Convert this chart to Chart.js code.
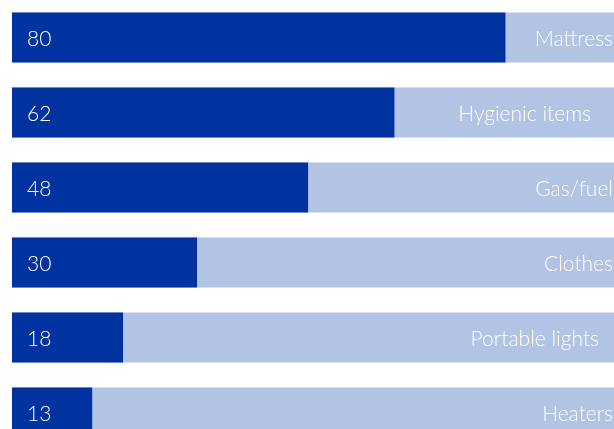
<!DOCTYPE html>
<html>
<head>
<meta charset="utf-8">
<script src="https://cdn.jsdelivr.net/npm/chart.js@4/dist/chart.umd.min.js"></script>
<style>
  html, body { margin: 0; padding: 0; background: #fff; overflow: hidden; width: 614px; height: 429px; }
  #wrap { position: absolute; left: 0; top: 0; width: 614px; height: 450px; }
</style>
</head>
<body>
<div id="wrap"><canvas id="c"></canvas></div>
<script>
const categories = ["Mattress", "Hygienic items", "Gas/fuel", "Clothes", "Portable lights", "Heaters"];
const values = [80, 62, 48, 30, 18, 13];
const totals = [100, 100, 100, 100, 100, 100];

const DARK = "#0033a0";
const LIGHT = "#b3c3e3";
const FONT = "300 21px Lato, 'Open Sans', sans-serif";
// right-hand inset of each category label (layout only)
const labelInset = [1, 23, 1, 1, 15, 1];

const labelPlugin = {
  id: "barLabels",
  afterDatasetsDraw(chart) {
    const ctx = chart.ctx;
    const meta = chart.getDatasetMeta(0);
    ctx.save();
    ctx.font = FONT;
    ctx.fillStyle = "#ffffff";
    ctx.textBaseline = "middle";
    meta.data.forEach((bar, i) => {
      const y = bar.y + 2;
      ctx.textAlign = "left";
      ctx.fillText(String(values[i]), chart.chartArea.left + 15, y);
      ctx.textAlign = "right";
      ctx.fillText(categories[i], chart.width - labelInset[i], y);
    });
    ctx.restore();
  }
};

new Chart(document.getElementById("c"), {
  type: "bar",
  data: {
    labels: categories,
    datasets: [
      { data: values, backgroundColor: DARK, borderWidth: 0, order: 0 },
      { data: totals, backgroundColor: LIGHT, borderWidth: 0, order: 1 }
    ]
  },
  options: {
    indexAxis: "y",
    responsive: true,
    maintainAspectRatio: false,
    animation: false,
    layout: { padding: { left: 12, right: 0, top: 0, bottom: 0 } },
    datasets: { bar: { grouped: false, barPercentage: 1, categoryPercentage: 50 / 75 } },
    scales: {
      x: { display: false, min: 0, max: 97.6 },
      y: { display: false }
    },
    plugins: { legend: { display: false }, tooltip: { enabled: false } }
  },
  plugins: [labelPlugin]
});
</script>
</body>
</html>
